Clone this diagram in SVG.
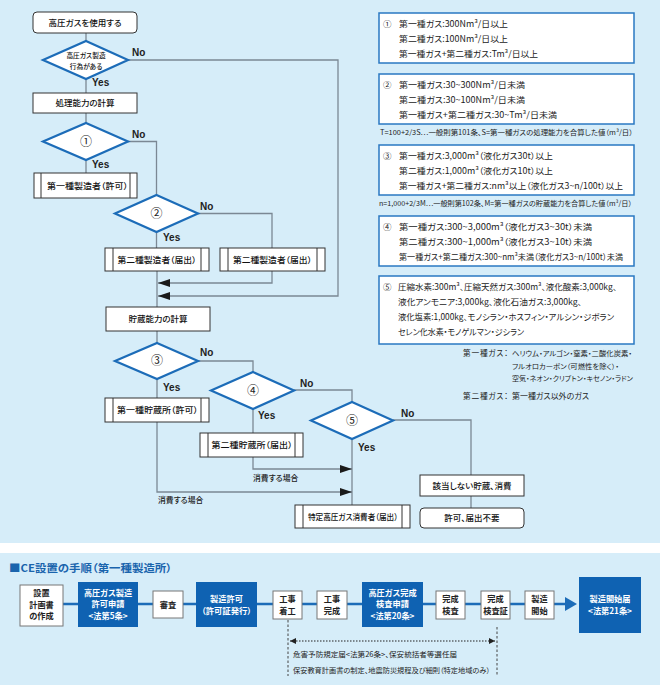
<svg xmlns="http://www.w3.org/2000/svg" width="660" height="685" viewBox="0 0 660 685">
<defs>
<marker id="ah" markerWidth="12" markerHeight="8" refX="12" refY="4" orient="auto" markerUnits="userSpaceOnUse"><path d="M0,0 L12,4 L0,8 Z" fill="#1a1a1a"/></marker>
<marker id="sa" markerWidth="6" markerHeight="6" refX="6" refY="3" orient="auto-start-reverse" markerUnits="userSpaceOnUse"><path d="M0,0 L6,3 L0,6 Z" fill="#222"/></marker>
<style>
text{font-feature-settings:"palt" 1}
.bg{fill:#d6edf9}
.box{fill:#fff;stroke:#333;stroke-width:1}
.rbox{fill:#fff;stroke:#333;stroke-width:1}
.pl{stroke:#333;stroke-width:1}
.dia{fill:#fff;stroke:#1c6cb8;stroke-width:2.2}
.ln{fill:none;stroke:#7b8894;stroke-width:1.3}
.t{font-family:"Noto Sans CJK JP","Noto Sans CJK SC",sans-serif;font-size:8.5px;fill:#111;text-anchor:middle;font-weight:500}
.sm{font-family:"Noto Sans CJK JP","Noto Sans CJK SC",sans-serif;font-size:6.7px;fill:#111;text-anchor:middle;font-weight:500}
.cn{font-family:"Noto Sans CJK JP","Noto Sans CJK SC",sans-serif;font-size:12px;fill:#222;text-anchor:middle}
.yn{font-family:"Liberation Sans",Arial,sans-serif;font-size:10px;font-weight:bold;fill:#222}
.lb{font-family:"Noto Sans CJK JP","Noto Sans CJK SC",sans-serif;font-size:7.8px;fill:#222;font-weight:500}
.ib{fill:#fff;stroke:#2a78c2;stroke-width:1.5}
.it{font-family:"Noto Sans CJK JP","Noto Sans CJK SC",sans-serif;font-size:8.5px;fill:#222}
.nt{font-family:"Noto Sans CJK JP","Noto Sans CJK SC",sans-serif;font-size:7px;fill:#222}
.gt{font-family:"Noto Sans CJK JP","Noto Sans CJK SC",sans-serif;font-size:7.7px;fill:#222}
.gs{font-family:"Noto Sans CJK JP","Noto Sans CJK SC",sans-serif;font-size:6.9px;fill:#222}
.title{font-family:"Noto Sans CJK JP","Noto Sans CJK SC",sans-serif;font-size:10.5px;font-weight:bold;fill:#1a64ad}
.wb{fill:#fff;stroke:#777;stroke-width:1}
.bb{fill:#0f62b2}
.wt{font-family:"Noto Sans CJK JP","Noto Sans CJK SC",sans-serif;font-size:8.2px;fill:#222;text-anchor:middle;font-weight:bold}
.bt{font-family:"Noto Sans CJK JP","Noto Sans CJK SC",sans-serif;font-size:8.2px;fill:#fff;text-anchor:middle;font-weight:bold}
.dl{fill:none;stroke:#444;stroke-width:1;stroke-dasharray:2.5,2}
.dt{fill:none;stroke:#222;stroke-width:1.2;stroke-dasharray:1.5,1.5}
.bl{fill:none;stroke:#1c6cb8;stroke-width:2.5}
</style>
</defs>

<rect class="bg" x="0" y="0" width="660" height="543"/>
<rect class="bg" x="0" y="553" width="660" height="132"/>

<g id="connectors">
<path class="ln" d="M86,33 V41"/>
<path class="ln" d="M86,79 V93"/>
<path class="ln" d="M86,113 V123"/>
<path class="ln" d="M86,160 V173"/>
<path class="ln" d="M128,60 H338 V296 H158" marker-end="url(#ah)"/>
<path class="ln" d="M128,141.5 H156.5 V195"/>
<path class="ln" d="M156.5,232 V248"/>
<path class="ln" d="M198,213.5 H272 V248"/>
<path class="ln" d="M272,271 V283 H158" marker-end="url(#ah)"/>
<path class="ln" d="M157,271 V307"/>
<path class="ln" d="M157,331 V343"/>
<path class="ln" d="M157,379 V398"/>
<path class="ln" d="M198,361 H253 V372"/>
<path class="ln" d="M253,409 V433"/>
<path class="ln" d="M294,390 H352 V402"/>
<path class="ln" d="M352,439 V505"/>
<path class="ln" d="M157,422 V492 H352" marker-end="url(#ah)"/>
<path class="ln" d="M253,457 V469 H352" marker-end="url(#ah)"/>
<path class="ln" d="M393,420 H471 V475"/>
<path class="ln" d="M471,496 V508"/>
</g>

<g id="edge-labels">
<text class="yn" x="132" y="56">No</text>
<text class="yn" x="92" y="86">Yes</text>
<text class="yn" x="132" y="138">No</text>
<text class="yn" x="92" y="168">Yes</text>
<text class="yn" x="200" y="210">No</text>
<text class="yn" x="163" y="241">Yes</text>
<text class="yn" x="200" y="356">No</text>
<text class="yn" x="163" y="391">Yes</text>
<text class="yn" x="300" y="387">No</text>
<text class="yn" x="258" y="419">Yes</text>
<text class="yn" x="401" y="417">No</text>
<text class="yn" x="358" y="451">Yes</text>
<text class="lb" x="158" y="503">消費する場合</text>
<text class="lb" x="253" y="481">消費する場合</text>
</g>

<g id="start">
<rect class="rbox" x="33" y="12" width="104" height="21" rx="4"/>
<text class="t" x="85" y="25.5">高圧ガスを使用する</text>
</g>
<g id="d0">
<polygon class="dia" points="86,41 128,60 86,79 43,60"/>
<text class="sm" x="86" y="57.5">高圧ガス製造</text>
<text class="sm" x="86" y="69">行為がある</text>
</g>
<g id="calc1">
<rect class="box" x="33" y="93" width="104" height="20"/>
<text class="t" x="85" y="106">処理能力の計算</text>
</g>
<g id="d1">
<polygon class="dia" points="86,123 128,141.5 86,160 43,141.5"/>
<text class="cn" x="86" y="145.5">①</text>
</g>
<g id="p1">
<rect class="box" x="34" y="173" width="103" height="25"/>
<line class="pl" x1="41" y1="173" x2="41" y2="198"/><line class="pl" x1="130" y1="173" x2="130" y2="198"/>
<text class="t" x="87.5" y="188.5" textLength="81" lengthAdjust="spacingAndGlyphs">第一種製造者（許可）</text>
</g>
<g id="d2">
<polygon class="dia" points="156.5,195 198,213.5 156.5,232 115,213.5"/>
<text class="cn" x="156.5" y="217.5">②</text>
</g>
<g id="p2a">
<rect class="box" x="105" y="248" width="104" height="23"/>
<line class="pl" x1="113" y1="248" x2="113" y2="271"/><line class="pl" x1="201" y1="248" x2="201" y2="271"/>
<text class="t" x="157" y="262.5" textLength="79" lengthAdjust="spacingAndGlyphs">第二種製造者（届出）</text>
</g>
<g id="p2b">
<rect class="box" x="220" y="248" width="105" height="23"/>
<line class="pl" x1="228" y1="248" x2="228" y2="271"/><line class="pl" x1="317" y1="248" x2="317" y2="271"/>
<text class="t" x="272.5" y="262.5" textLength="79" lengthAdjust="spacingAndGlyphs">第二種製造者（届出）</text>
</g>
<g id="calc2">
<rect class="box" x="106" y="307" width="104" height="24"/>
<text class="t" x="158" y="322">貯蔵能力の計算</text>
</g>
<g id="d3">
<polygon class="dia" points="157,343 198,361 157,379 115,361"/>
<text class="cn" x="157" y="365">③</text>
</g>
<g id="p3">
<rect class="box" x="105" y="398" width="104" height="24"/>
<line class="pl" x1="113" y1="398" x2="113" y2="422"/><line class="pl" x1="201" y1="398" x2="201" y2="422"/>
<text class="t" x="157.5" y="413" textLength="81" lengthAdjust="spacingAndGlyphs">第一種貯蔵所（許可）</text>
</g>
<g id="d4">
<polygon class="dia" points="253,372 294,390.5 253,409 211,390.5"/>
<text class="cn" x="253" y="394.5">④</text>
</g>
<g id="p4">
<rect class="box" x="200" y="433" width="103" height="24"/>
<line class="pl" x1="208" y1="433" x2="208" y2="457"/><line class="pl" x1="295" y1="433" x2="295" y2="457"/>
<text class="t" x="252" y="448" textLength="81" lengthAdjust="spacingAndGlyphs">第二種貯蔵所（届出）</text>
</g>
<g id="d5">
<polygon class="dia" points="352,402 393,420.5 352,439 311,420.5"/>
<text class="cn" x="352" y="424.5">⑤</text>
</g>
<g id="p5">
<rect class="box" x="295" y="505" width="115" height="23"/>
<line class="pl" x1="303" y1="505" x2="303" y2="528"/><line class="pl" x1="402" y1="505" x2="402" y2="528"/>
<text class="t" x="353" y="519.5" textLength="90" lengthAdjust="spacingAndGlyphs">特定高圧ガス消費者（届出）</text>
</g>
<g id="none">
<rect class="box" x="420" y="475" width="104" height="21"/>
<text class="t" x="472" y="488.5">該当しない貯蔵、消費</text>
</g>
<g id="free">
<rect class="rbox" x="420" y="508" width="104" height="20" rx="4"/>
<text class="t" x="472" y="521">許可、届出不要</text>
</g>

<g id="info1">
<rect class="ib" x="379" y="13" width="255" height="50"/>
<text class="it" x="383" y="27">①</text>
<text class="it" x="399" y="27" textLength="109" lengthAdjust="spacingAndGlyphs">第一種ガス:300Nm³/日以上</text>
<text class="it" x="399" y="42" textLength="109" lengthAdjust="spacingAndGlyphs">第二種ガス:100Nm³/日以上</text>
<text class="it" x="399" y="57" textLength="139" lengthAdjust="spacingAndGlyphs">第一種ガス+第二種ガス:Tm³/日以上</text>
</g>
<g id="info2">
<rect class="ib" x="379" y="74" width="255" height="50"/>
<text class="it" x="383" y="88">②</text>
<text class="it" x="399" y="88" textLength="126" lengthAdjust="spacingAndGlyphs">第一種ガス:30~300Nm³/日未満</text>
<text class="it" x="399" y="103" textLength="126" lengthAdjust="spacingAndGlyphs">第二種ガス:30~100Nm³/日未満</text>
<text class="it" x="399" y="118" textLength="158" lengthAdjust="spacingAndGlyphs">第一種ガス+第二種ガス:30~Tm³/日未満</text>
</g>
<text class="nt" x="380" y="134.5" textLength="253" lengthAdjust="spacingAndGlyphs">T=100+2/3S…一般則第101条、S=第一種ガスの処理能力を合算した値（m³/日）</text>
<g id="info3">
<rect class="ib" x="379" y="145" width="255" height="50"/>
<text class="it" x="383" y="159">③</text>
<text class="it" x="399" y="159" textLength="154" lengthAdjust="spacingAndGlyphs">第一種ガス:3,000m³（液化ガス30t）以上</text>
<text class="it" x="399" y="174" textLength="154" lengthAdjust="spacingAndGlyphs">第二種ガス:1,000m³（液化ガス10t）以上</text>
<text class="it" x="399" y="189" textLength="224" lengthAdjust="spacingAndGlyphs">第一種ガス+第二種ガス:nm³以上（液化ガス3~n/100t）以上</text>
</g>
<text class="nt" x="379" y="205.5" textLength="253" lengthAdjust="spacingAndGlyphs">n=1,000+2/3M…一般則第102条、M=第一種ガスの貯蔵能力を合算した値（m³/日）</text>
<g id="info4">
<rect class="ib" x="379" y="216" width="255" height="50"/>
<text class="it" x="383" y="230">④</text>
<text class="it" x="399" y="230" textLength="193" lengthAdjust="spacingAndGlyphs">第一種ガス:300~3,000m³（液化ガス3~30t）未満</text>
<text class="it" x="399" y="245" textLength="193" lengthAdjust="spacingAndGlyphs">第二種ガス:300~1,000m³（液化ガス3~10t）未満</text>
<text class="it" x="399" y="260" textLength="224" lengthAdjust="spacingAndGlyphs">第一種ガス+第二種ガス:300~nm³未満（液化ガス3~n/100t）未満</text>
</g>
<g id="info5">
<rect class="ib" x="379" y="276" width="255" height="68"/>
<text class="it" x="383" y="290">⑤</text>
<text class="it" x="398" y="290" textLength="219" lengthAdjust="spacingAndGlyphs">圧縮水素:300m³、圧縮天然ガス:300m³、液化酸素:3,000kg、</text>
<text class="it" x="398" y="305" textLength="184" lengthAdjust="spacingAndGlyphs">液化アンモニア:3,000kg、液化石油ガス:3,000kg、</text>
<text class="it" x="398" y="320" textLength="216" lengthAdjust="spacingAndGlyphs">液化塩素:1,000kg、モノシラン・ホスフィン・アルシン・ジボラン</text>
<text class="it" x="398" y="335" textLength="126" lengthAdjust="spacingAndGlyphs">セレン化水素・モノゲルマン・ジシラン</text>
</g>
<g id="gasdef">
<text class="gt" x="463" y="356" textLength="45" lengthAdjust="spacing">第一種ガス：</text>
<text class="gs" x="512" y="356" textLength="120" lengthAdjust="spacingAndGlyphs">ヘリウム・アルゴン・窒素・二酸化炭素・</text>
<text class="gs" x="512" y="369" textLength="107" lengthAdjust="spacingAndGlyphs">フルオロカーボン（可燃性を除く）・</text>
<text class="gs" x="512" y="381" textLength="121" lengthAdjust="spacingAndGlyphs">空気・ネオン・クリプトン・キセノン・ラドン</text>
<text class="gt" x="463" y="399" textLength="45" lengthAdjust="spacing">第二種ガス：</text>
<text class="gt" x="512" y="399" textLength="77" lengthAdjust="spacingAndGlyphs">第一種ガス以外のガス</text>
</g>

<text class="title" x="9" y="572" textLength="163" lengthAdjust="spacingAndGlyphs">■CE設置の手順（第一種製造所）</text>
<g id="flow-line">
<path class="bl" d="M63,604 H566"/>
<polygon points="565,597 577,604 565,611" fill="#1c6cb8"/>
<path class="dl" d="M288,620 V676"/>
<path class="dl" d="M497,627 V676"/>
<path class="dt" d="M290,641 H495" marker-start="url(#sa)" marker-end="url(#sa)"/>
</g>
<g id="s1">
<rect class="wb" x="20" y="585" width="43" height="41"/>
<text class="wt" x="41.5" y="596">設置</text>
<text class="wt" x="41.5" y="607.5">計画書</text>
<text class="wt" x="41.5" y="619">の作成</text>
</g>
<g id="s2">
<rect class="bb" x="78" y="582" width="60" height="45"/>
<text class="bt" x="108" y="595.5">高圧ガス製造</text>
<text class="bt" x="108" y="607">許可申請</text>
<text class="bt" x="108" y="618.5">&lt;法第5条&gt;</text>
</g>
<g id="s3">
<rect class="wb" x="153" y="591" width="30" height="27"/>
<text class="wt" x="168" y="608">審査</text>
</g>
<g id="s4">
<rect class="bb" x="196" y="582" width="61" height="45"/>
<text class="bt" x="226.5" y="602">製造許可</text>
<text class="bt" x="226.5" y="614" textLength="50" lengthAdjust="spacingAndGlyphs">（許可証発行）</text>
</g>
<g id="s5">
<rect class="wb" x="273" y="591" width="29" height="28"/>
<text class="wt" x="287.5" y="601.5">工事</text>
<text class="wt" x="287.5" y="614">着工</text>
</g>
<g id="s6">
<rect class="wb" x="317" y="591" width="30" height="28"/>
<text class="wt" x="332" y="601.5">工事</text>
<text class="wt" x="332" y="614">完成</text>
</g>
<g id="s7">
<rect class="bb" x="362" y="582" width="61" height="45"/>
<text class="bt" x="392.5" y="595.5">高圧ガス完成</text>
<text class="bt" x="392.5" y="607">検査申請</text>
<text class="bt" x="392.5" y="618.5">&lt;法第20条&gt;</text>
</g>
<g id="s8">
<rect class="wb" x="436" y="591" width="29" height="28"/>
<text class="wt" x="450.5" y="601.5">完成</text>
<text class="wt" x="450.5" y="614">検査</text>
</g>
<g id="s9">
<rect class="wb" x="481" y="591" width="29" height="28"/>
<text class="wt" x="495.5" y="601.5">完成</text>
<text class="wt" x="495.5" y="614">検査証</text>
</g>
<g id="s10">
<rect class="wb" x="525" y="591" width="29" height="28"/>
<text class="wt" x="539.5" y="601.5">製造</text>
<text class="wt" x="539.5" y="614">開始</text>
</g>
<g id="s11">
<rect class="bb" x="579" y="577" width="62" height="56"/>
<text class="bt" x="610" y="602">製造開始届</text>
<text class="bt" x="610" y="614">&lt;法第21条&gt;</text>
</g>
<g id="notes">
<text class="nt" x="293" y="657" textLength="164" lengthAdjust="spacingAndGlyphs">危害予防規定届&lt;法第26条&gt;、保安統括者等選任届</text>
<text class="nt" x="293" y="673" textLength="197" lengthAdjust="spacingAndGlyphs">保安教育計画書の制定、地震防災規程及び細則（特定地域のみ）</text>
</g>
</svg>
